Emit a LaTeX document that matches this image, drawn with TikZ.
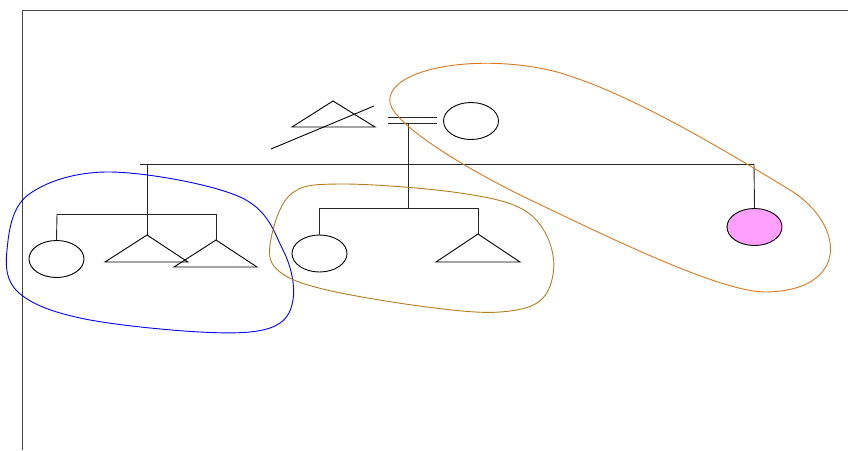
\documentclass[tikz,border=0pt]{standalone}
\usetikzlibrary{shapes.geometric}
\definecolor{frame}{RGB}{70,70,70}
\definecolor{bigorange}{RGB}{220,120,30}
\definecolor{midbrown}{RGB}{180,125,30}
\definecolor{affected}{RGB}{255,160,255}
\begin{document}
\begin{tikzpicture}[x=1pt,y=-1pt,
  line width=0.9pt,
  female/.style={ellipse,draw=black,minimum width=55pt,minimum height=37pt,inner sep=0pt},
  link/.style={draw=black!85},
  blob/.style={line width=0.9pt}]
\useasboundingbox (0,0) rectangle (848,450);
% frame
\draw[frame] (22,450) -- (22,10) -- (848,10);
% generation I
\coordinate (fa) at (333,101);
\draw (fa) -- (375,127) -- (292,127) -- cycle;
\coordinate (s1) at (271,149); \coordinate (s2) at (374,106);
\draw (s1) -- (s2);
\node[female] (mo) at (471,121) {};
\coordinate (m1) at (388,117); \coordinate (m2) at (437,117);
\coordinate (m3) at (388,123); \coordinate (m4) at (437,123);
\draw[link] (m1) -- (m2); \draw[link] (m3) -- (m4);
\coordinate (mv) at (408,123);
\coordinate (mc) at (408,208);
\draw[link] (mv) -- (mc);
% top sibship line
\coordinate (tl) at (140,164); \coordinate (tr) at (754,164);
\draw[link] (tl) -- (tr);
% left group
\coordinate (lv) at (147,164); \coordinate (lc) at (147,214);
\coordinate (ll) at (57,214); \coordinate (lr) at (216,214);
\node[female] (lf) at (56.5,259) {};
\coordinate (t1) at (147,235);
\coordinate (t2) at (216,240);
\draw[link] (ll) -- (lr);
\draw[link] (lv) -- (t1);
\draw[link] (ll) -- (lf.north);
\draw[link] (lr) -- (t2);
\draw (t1) -- (188,262) -- (105,262) -- cycle;
\draw (t2) -- (257,267) -- (174,267) -- cycle;
% middle group
\coordinate (ml) at (319.5,208); \coordinate (mr) at (478,208);
\draw[link] (ml) -- (mr);
\node[female] (mf) at (319.5,253.5) {};
\coordinate (t3) at (478,234);
\draw[link] (ml) -- (mf.north);
\draw[link] (mr) -- (t3);
\draw (t3) -- (520,262) -- (436,262) -- cycle;
% right affected female
\node[female,fill=affected] (rf) at (754.5,227) {};
\draw[link] (tr) -- (rf.north);
% blobs
\draw[blob,blue] plot[smooth cycle,tension=0.6] coordinates {(7,250) (28,195) (110,172) (240,197) (283,250) (293,300) (270,328) (200,332) (80,318) (18,292)};
\draw[blob,midbrown] plot[smooth cycle,tension=0.6] coordinates {(270,245) (290,195) (340,184) (460,193) (527,212) (553,255) (543,298) (500,312) (427,307) (327,290) (280,272)};
\draw[blob,bigorange] (390,103) .. controls (385,68) and (480,52) .. (557,72)
  .. controls (620,90) and (700,135) .. (790,190)
  .. controls (845,224) and (850,290) .. (767,292)
  .. controls (720,293) and (600,233) .. (520,195)
  .. controls (460,165) and (395,125) .. (390,103) -- cycle;
\end{tikzpicture}
\end{document}
